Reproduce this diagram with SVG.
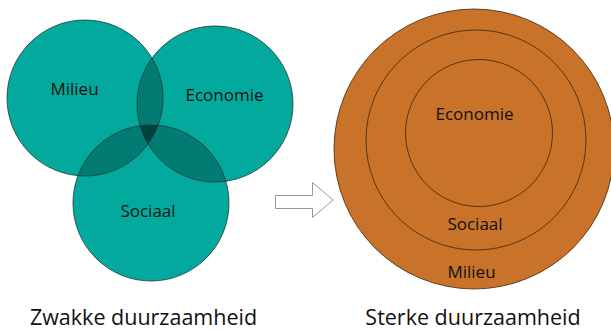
<svg xmlns="http://www.w3.org/2000/svg" width="611" height="331" viewBox="0 0 611 331">
<style>
.t{font-family:"Open Sans","Liberation Sans",sans-serif;fill:#111;text-anchor:middle}
.lbl{font-size:17px}
.cap{font-size:21.5px}
.teal{fill:#03A99D}
.ol{fill:none;stroke:#1a3a36;stroke-width:0.8}
.ov{fill:#000;fill-opacity:0.27}
.org{fill:#C8722A;stroke:#3a2410;stroke-width:0.8}
.ring{fill:none;stroke:#3a2410;stroke-width:0.8}
</style>
<defs>
<clipPath id="cM"><circle cx="85" cy="98" r="78"/></clipPath>
<clipPath id="cE"><circle cx="215" cy="104" r="78"/></clipPath>
<clipPath id="cS"><circle cx="151" cy="203" r="78"/></clipPath>
</defs>
<g id="weak">
<g id="milieu-w"><circle class="teal" cx="85" cy="98" r="78"/></g>
<g id="economie-w"><circle class="teal" cx="215" cy="104" r="78"/></g>
<g id="sociaal-w"><circle class="teal" cx="151" cy="203" r="78"/></g>
<g id="overlaps">
<g clip-path="url(#cM)"><circle class="ov" cx="215" cy="104" r="78"/></g>
<g clip-path="url(#cM)"><circle class="ov" cx="151" cy="203" r="78"/></g>
<g clip-path="url(#cE)"><circle class="ov" cx="151" cy="203" r="78"/></g>
</g>
<circle class="ol" cx="85" cy="98" r="78"/>
<circle class="ol" cx="215" cy="104" r="78"/>
<circle class="ol" cx="151" cy="203" r="78"/>
<text class="t lbl" x="74.5" y="95">Milieu</text>
<text class="t lbl" x="224.5" y="101">Economie</text>
<text class="t lbl" x="148" y="217">Sociaal</text>
</g>
<g id="connectors">
<path d="M275.5,195.5 H312.5 V182.5 L333,200 L312.5,217.5 V208.5 H275.5 Z" fill="#fff" stroke="#999" stroke-width="1"/>
</g>
<g id="strong">
<g id="milieu-s"><circle class="org" cx="474" cy="149" r="140"/></g>
<g id="sociaal-s"><circle class="ring" cx="476" cy="140" r="110"/></g>
<g id="economie-s"><circle class="ring" cx="479" cy="133" r="73.5"/></g>
<text class="t lbl" x="474.5" y="120">Economie</text>
<text class="t lbl" x="475" y="230">Sociaal</text>
<text class="t lbl" x="471.5" y="278">Milieu</text>
</g>
<text class="t cap" x="143.5" y="325">Zwakke duurzaamheid</text>
<text class="t cap" x="473" y="325">Sterke duurzaamheid</text>
</svg>
